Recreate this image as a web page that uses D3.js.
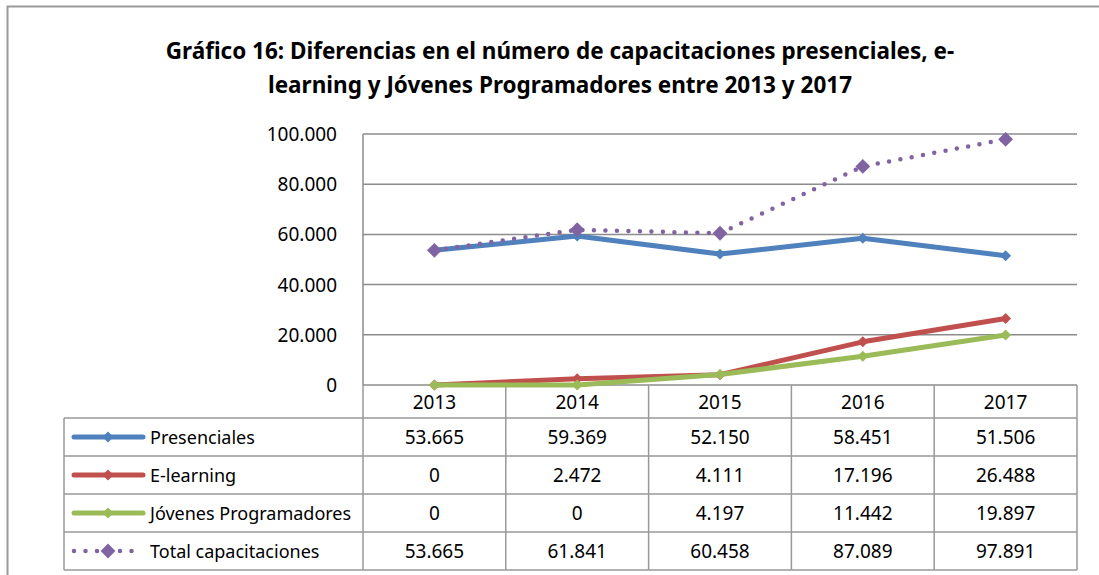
<!DOCTYPE html>
<html>
<head>
<meta charset="utf-8">
<script src="https://cdn.jsdelivr.net/npm/d3@7"></script>
<style>
  body { margin: 0; background: #fff; }
  text { font-family: "Noto Sans", "DejaVu Sans", sans-serif; fill: #000; }
</style>
</head>
<body>
<div id="chart"></div>
<script>
// data
const years = ['2013', '2014', '2015', '2016', '2017'];
const presenciales = [53665, 59369, 52150, 58451, 51506];
const elearning = [0, 2472, 4111, 17196, 26488];
const jovenes = [0, 0, 4197, 11442, 19897];
const total = [53665, 61841, 60458, 87089, 97891];
const yTicks = [0, 20000, 40000, 60000, 80000, 100000];
const titleLines = [
  'Gráfico 16: Diferencias en el número de capacitaciones presenciales, e-',
  'learning y Jóvenes Programadores entre 2013 y 2017'
];

const series = [
  { name: 'Presenciales', values: presenciales, color: '#4f81bd', dotted: false },
  { name: 'E-learning', values: elearning, color: '#c0504d', dotted: false },
  { name: 'Jóvenes Programadores', values: jovenes, color: '#9bbb59', dotted: false },
  { name: 'Total capacitaciones', values: total, color: '#8064a2', dotted: true }
];

const W = 1099, H = 575;
const plot = { left: 363, right: 1077, top: 134, bottom: 385 };
const tableLeft = 64;
const headerBottom = 418;
const rowH = 38;

const loc = d3.formatLocale({ decimal: ',', thousands: '.', grouping: [3], currency: ['', ''] });
const fmt = loc.format(',d');

// rotated square, like the office diamond marker
function diamond(size) {
  return d3.symbol(d3.symbolSquare, size)();
}

let svg = d3.select('#chart').append('svg')
  .attr('width', W).attr('height', H)
  .style('background', '#fff');

// outer frame (cut off at right and bottom)
svg.append('path')
  .attr('d', `M7.5,${H + 5} L7.5,6.5 L${W + 5},6.5`)
  .attr('fill', 'none').attr('stroke', '#9a9a9a').attr('stroke-width', 2);

// title
svg.append('g').selectAll('text')
  .data(titleLines)
  .join('text')
  .attr('x', 560)
  .attr('y', (d, i) => 59 + i * 34)
  .attr('text-anchor', 'middle')
  .attr('font-size', 22.5)
  .attr('font-weight', 'bold')
  .text(d => d);

let x = d3.scaleBand().domain(years).range([plot.left, plot.right]);
let y = d3.scaleLinear().domain([0, 100000]).range([plot.bottom, plot.top]);

// gridlines
svg.append('g').selectAll('line')
  .data(yTicks)
  .join('line')
  .attr('x1', plot.left).attr('x2', plot.right)
  .attr('y1', d => y(d)).attr('y2', d => y(d))
  .attr('stroke', '#8c8c8c').attr('stroke-width', 1.5);

// y axis line
svg.append('line')
  .attr('x1', plot.left).attr('x2', plot.left)
  .attr('y1', plot.top).attr('y2', plot.bottom)
  .attr('stroke', '#8c8c8c').attr('stroke-width', 1.5);

// y tick labels
svg.append('g').selectAll('text')
  .data(yTicks)
  .join('text')
  .attr('x', 337)
  .attr('y', d => y(d) + 7)
  .attr('text-anchor', 'end')
  .attr('font-size', 19)
  .text(d => fmt(d));

// data table grid
let nRows = series.length;
let tableBottom = headerBottom + nRows * rowH;
let grid = svg.append('g').attr('stroke', '#999').attr('stroke-width', 1.5);
grid.append('line').attr('x1', tableLeft).attr('x2', plot.right).attr('y1', headerBottom).attr('y2', headerBottom);
d3.range(1, nRows + 1).forEach(i => {
  grid.append('line').attr('x1', tableLeft).attr('x2', plot.right)
    .attr('y1', headerBottom + i * rowH).attr('y2', headerBottom + i * rowH);
});
grid.append('line').attr('x1', tableLeft).attr('x2', tableLeft).attr('y1', headerBottom).attr('y2', tableBottom);
years.forEach(yr => {
  grid.append('line').attr('x1', x(yr)).attr('x2', x(yr)).attr('y1', plot.bottom).attr('y2', tableBottom);
});
grid.append('line').attr('x1', plot.right).attr('x2', plot.right).attr('y1', plot.bottom).attr('y2', tableBottom);

// header years
svg.append('g').selectAll('text')
  .data(years)
  .join('text')
  .attr('x', d => x(d) + x.bandwidth() / 2)
  .attr('y', (plot.bottom + headerBottom) / 2 + 7.5)
  .attr('text-anchor', 'middle')
  .attr('font-size', 19)
  .text(d => d);

// table rows
series.forEach((s, i) => {
  let cy = headerBottom + i * rowH + rowH / 2;
  let row = svg.append('g');
  let key = row.append('line')
    .attr('x1', 74).attr('x2', 143).attr('y1', cy).attr('y2', cy)
    .attr('stroke', s.color).attr('stroke-width', 5)
    .attr('stroke-linecap', 'round');
  if (s.dotted) key.attr('stroke-dasharray', '0 11.5').attr('stroke-width', 4.5);
  row.append('path')
    .attr('d', diamond(s.dotted ? 110 : 60))
    .attr('transform', `translate(108,${cy}) rotate(45)`)
    .attr('fill', s.color);
  row.append('text')
    .attr('x', 150).attr('y', cy + 7)
    .attr('font-size', 18)
    .text(s.name);
  row.selectAll('text.val')
    .data(s.values)
    .join('text')
    .attr('class', 'val')
    .attr('x', (d, j) => x(years[j]) + x.bandwidth() / 2)
    .attr('y', cy + 7)
    .attr('text-anchor', 'middle')
    .attr('font-size', 19)
    .text(d => fmt(d));
});

// lines and markers
let line = d3.line()
  .x((d, i) => x(years[i]) + x.bandwidth() / 2)
  .y(d => y(d));

series.forEach(s => {
  let g = svg.append('g');
  let p = g.append('path')
    .attr('d', line(s.values))
    .attr('fill', 'none')
    .attr('stroke', s.color)
    .attr('stroke-width', s.dotted ? 4.5 : 5)
    .attr('stroke-linejoin', 'round');
  if (s.dotted) p.attr('stroke-dasharray', '0 11.5').attr('stroke-linecap', 'round');
  g.selectAll('path.mk')
    .data(s.values)
    .join('path')
    .attr('class', 'mk')
    .attr('d', diamond(s.dotted ? 110 : 60))
    .attr('transform', (d, i) => `translate(${x(years[i]) + x.bandwidth() / 2},${y(d)}) rotate(45)`)
    .attr('fill', s.color);
});
</script>
</body>
</html>
